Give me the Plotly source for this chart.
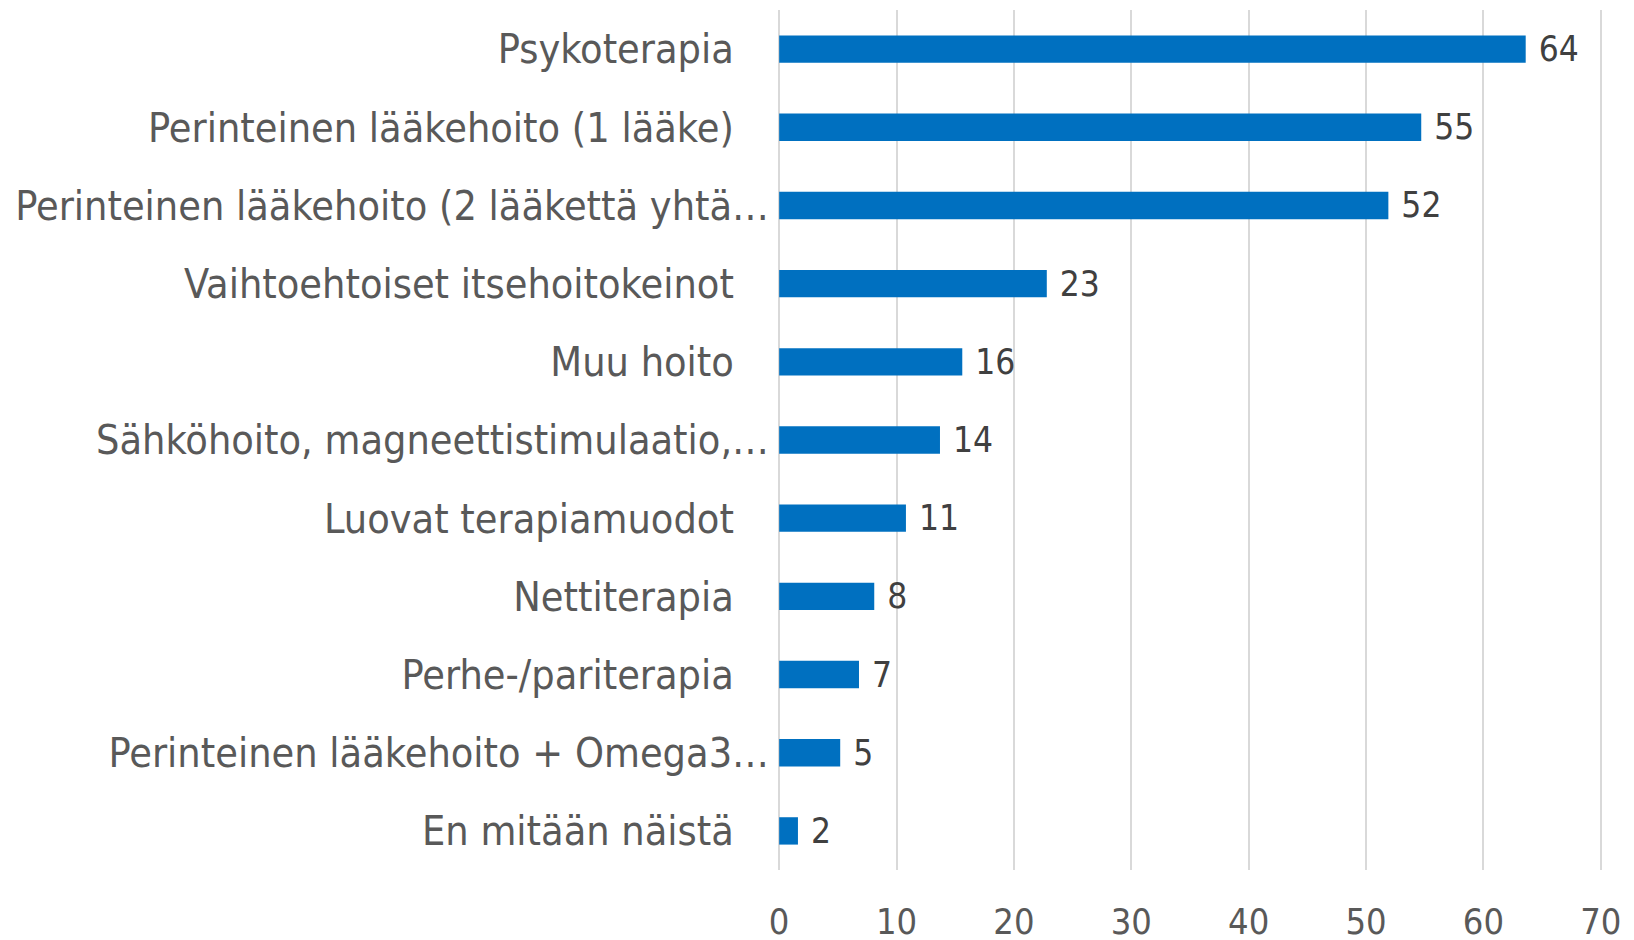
import plotly.graph_objects as go

categories = [
    "Psykoterapia",
    "Perinteinen lääkehoito (1 lääke)",
    "Perinteinen lääkehoito (2 lääkettä yhtä…",
    "Vaihtoehtoiset itsehoitokeinot",
    "Muu hoito",
    "Sähköhoito, magneettistimulaatio,…",
    "Luovat terapiamuodot",
    "Nettiterapia",
    "Perhe-/pariterapia",
    "Perinteinen lääkehoito + Omega3…",
    "En mitään näistä",
]
values = [63.6, 54.7, 51.9, 22.8, 15.6, 13.7, 10.8, 8.1, 6.8, 5.2, 1.6]
tick_values = [0, 10, 20, 30, 40, 50, 60, 70]

FONT = "DejaVu Sans Condensed, Liberation Sans Narrow, DejaVu Sans, sans-serif"

# Excel-style: truncated labels reach closer to the axis than complete ones
tick_text = [c if c.endswith("…") else c + "\u00a0\u00a0\u00a0" for c in categories]

fig = go.Figure(
    go.Bar(
        x=values,
        y=categories,
        orientation="h",
        marker=dict(color="#0070C0", line=dict(width=0)),
        texttemplate=" %{x:.0f}",
        textposition="outside",
        constraintext="none",
        textfont=dict(family=FONT, size=35, color="#404040"),
        cliponaxis=False,
    )
)

fig.update_layout(
    width=1634,
    height=940,
    paper_bgcolor="white",
    plot_bgcolor="white",
    margin=dict(l=770, r=40, t=2, b=78),
    bargap=0.65,
    showlegend=False,
    font=dict(family=FONT),
)
fig.update_xaxes(
    range=[-0.1, 70.1],
    tickvals=tick_values,
    showgrid=True,
    gridcolor="#d9d9d9",
    gridwidth=1.5,
    zeroline=True,
    zerolinecolor="#d9d9d9",
    zerolinewidth=1.5,
    showline=False,
    ticks="",
    automargin=False,
    tickfont=dict(family=FONT, size=36, color="#595959"),
    ticklabelstandoff=27,
)
fig.update_yaxes(
    categoryorder="array",
    categoryarray=categories[::-1],
    tickvals=categories,
    ticktext=tick_text,
    showgrid=False,
    showline=False,
    ticks="",
    automargin=False,
    tickfont=dict(family=FONT, size=41, color="#595959"),
    ticklabelstandoff=8,
)

fig.write_html("out.html")
